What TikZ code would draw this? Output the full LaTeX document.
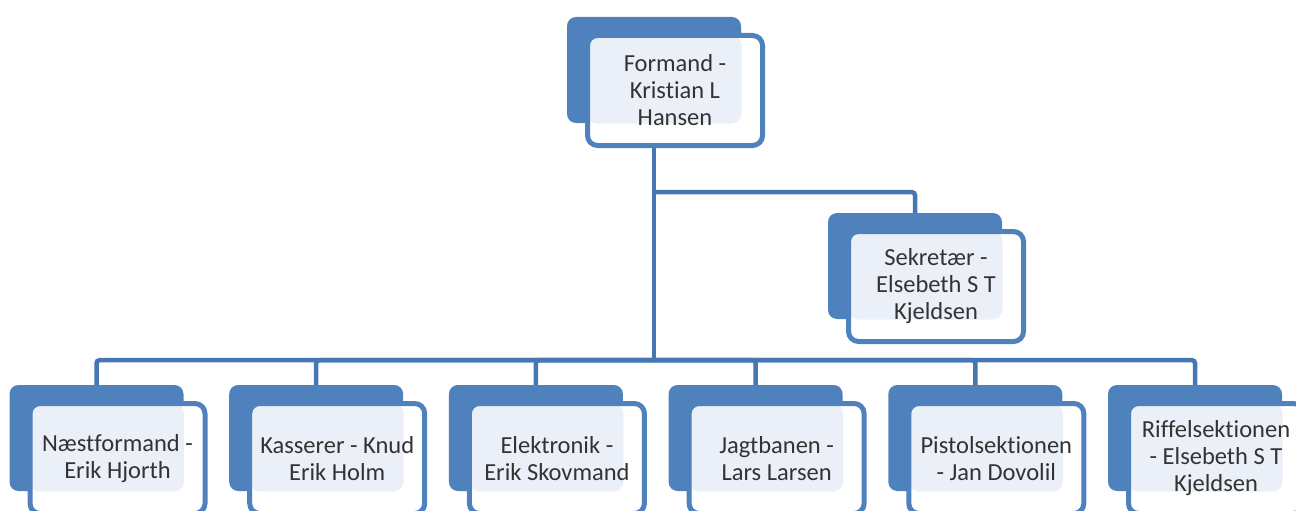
\documentclass[tikz,border=0pt]{standalone}
\usepackage{fontspec}
\setmainfont{Carlito}[Ligatures=NoCommon]
\usepackage{tikz}
\usetikzlibrary{positioning, backgrounds}
\definecolor{unitblue}{HTML}{4F81BD}
\definecolor{linkblue}{HTML}{4677B2}
\definecolor{unitlight}{HTML}{EBF0F8}
\definecolor{unittext}{HTML}{333333}

\begin{document}
\begin{tikzpicture}[
                unitbg/.style={fill=unitblue, rounded corners=9pt, minimum width=174pt, minimum height=106pt, inner sep=0pt},
                unit/.style={draw=unitblue, line width=5pt, fill=white, rounded corners=10pt, minimum width=175pt, minimum height=110pt, inner sep=0pt, align=center, text=unittext, font=\fontsize{24.5}{27}\selectfont,
                    path picture={\fill[unitlight] (path picture bounding box.north west) rectangle ++(154pt,-88pt);}},
                link/.style={draw=linkblue, line width=4.5pt, rounded corners=3pt}
            ]
            \useasboundingbox (0,0) rectangle (1296pt,-511pt);
            \clip (0,0) rectangle (1296pt,-511pt);

            % Bagkasser
            \node[unitbg] (formandbg) at (654pt,-70pt) {};
            \node[unitbg] (sekretaerbg) at (915pt,-266pt) {};
            \node[unitbg] (naestformandbg) at (96.5pt,-438pt) {};
            \node[unitbg, right=45.3pt of naestformandbg] (kassererbg) {};
            \node[unitbg, right=45.3pt of kassererbg] (elektronikbg) {};
            \node[unitbg, right=45.3pt of elektronikbg] (jagtbanenbg) {};
            \node[unitbg, right=45.3pt of jagtbanenbg] (pistolbg) {};
            \node[unitbg, right=45.3pt of pistolbg] (riffelbg) {};

            % Forkasser med tekst
            \node[unit] (formand) at ([shift={(21pt,-20.5pt)}]formandbg.center) {Formand -\\Kristian L\\Hansen};
            \node[unit] (sekretaer) at ([shift={(21pt,-20.5pt)}]sekretaerbg.center) {Sekretær -\\Elsebeth S T\\Kjeldsen};
            \node[unit] (naestformand) at ([shift={(21pt,-20.5pt)}]naestformandbg.center) {Næstformand -\\Erik Hjorth};
            \node[unit] (kasserer) at ([shift={(21pt,-20.5pt)}]kassererbg.center) {Kasserer - Knud\\Erik Holm};
            \node[unit] (elektronik) at ([shift={(21pt,-20.5pt)}]elektronikbg.center) {Elektronik -\\Erik Skovmand};
            \node[unit] (jagtbanen) at ([shift={(21pt,-20.5pt)}]jagtbanenbg.center) {Jagtbanen -\\Lars Larsen};
            \node[unit] (pistol) at ([shift={(21pt,-20.5pt)}]pistolbg.center) {Pistolsektionen\\- Jan Dovolil};
            \node[unit] (riffel) at ([shift={(21pt,-20.5pt)}]riffelbg.center) {Riffelsektionen\\- Elsebeth S T\\Kjeldsen};

            % Forbindelser
            \coordinate (fork) at ([yshift=-69pt]formandbg.south);
            \coordinate (bus) at ([yshift=-237pt]formandbg.south);
            \begin{pgfonlayer}{background}
                \draw[link] (formandbg.south) -- (bus);
                \draw[link] (fork) -| (sekretaerbg.north);
                \foreach \n in {naestformand, kasserer, elektronik, jagtbanen, pistol, riffel}
                    \draw[link] (bus) -| (\n bg.north);
            \end{pgfonlayer}

        \end{tikzpicture}
\end{document}
